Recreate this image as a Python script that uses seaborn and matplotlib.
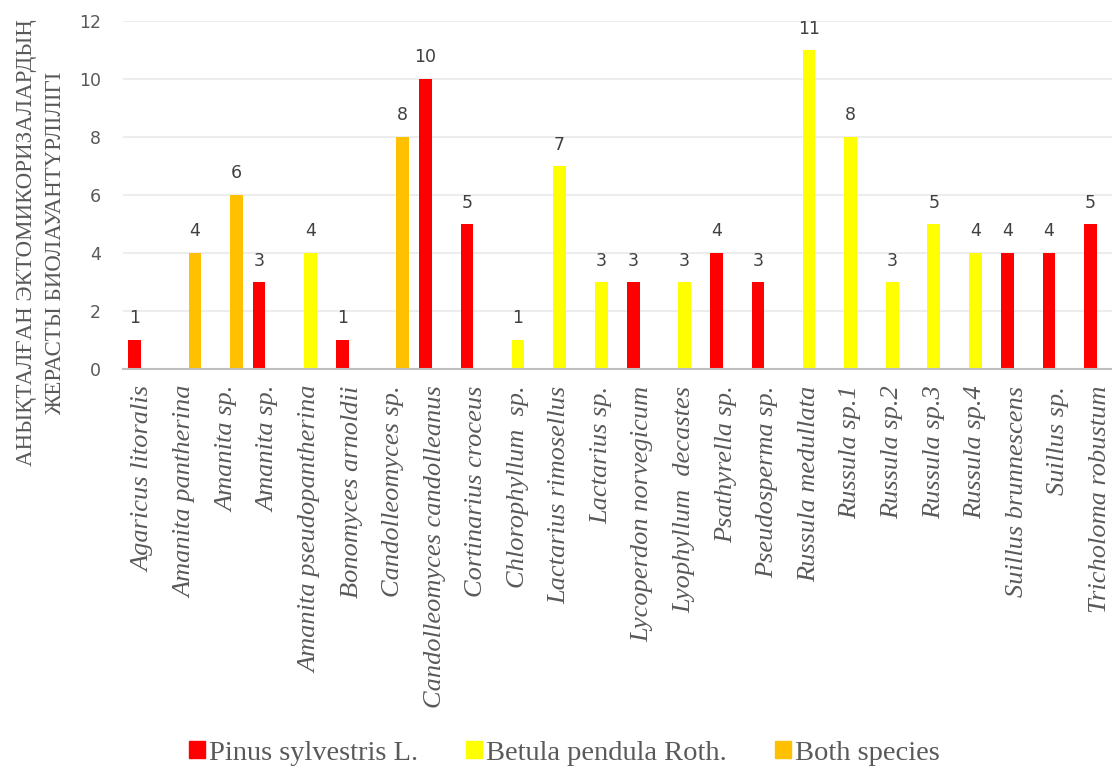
import matplotlib
matplotlib.use("Agg")
import matplotlib.pyplot as plt
import pandas as pd
import seaborn as sns

# Fungal taxa (x axis) and counts of ectomycorrhizal types per host tree
species = [
    "Agaricus litoralis", "Amanita pantherina", "Amanita sp.", "Amanita sp.",
    "Amanita pseudopantherina", "Bonomyces arnoldii", "Candolleomyces sp.",
    "Candolleomyces candolleanus", "Cortinarius croceus", "Chlorophyllum  sp.",
    "Lactarius rimosellus", "Lactarius sp.", "Lycoperdon norvegicum",
    "Lyophyllum  decastes", "Psathyrella sp.", "Pseudosperma sp.",
    "Russula medullata", "Russula sp.1", "Russula sp.2", "Russula sp.3",
    "Russula sp.4", "Suillus brunnescens", "Suillus sp.", "Tricholoma robustum",
]
pinus = [1, 0, 0, 3, 0, 1, 0, 10, 5, 0, 0, 0, 3, 0, 4, 3, 0, 0, 0, 0, 0, 4, 4, 5]
betula = [0, 0, 0, 0, 4, 0, 0, 0, 0, 1, 7, 3, 0, 3, 0, 0, 11, 8, 3, 5, 4, 0, 0, 0]
both = [0, 4, 6, 0, 0, 0, 8, 0, 0, 0, 0, 0, 0, 0, 0, 0, 0, 0, 0, 0, 0, 0, 0, 0]

groups = ["Pinus sylvestris L.", "Betula pendula Roth.", "Both species"]
palette = ["#FF0000", "#FFFF00", "#FFC000"]

y_label = "АНЫҚТАЛҒАН ЭКТОМИКОРИЗАЛАРДЫҢ\nЖЕРАСТЫ БИОЛАУАНТҮРЛІЛІГІ"

# long-form table; taxa are indexed so duplicate names stay separate
rows = []
for grp, vals in zip(groups, [pinus, betula, both]):
    for i, v in enumerate(vals):
        if v > 0:
            rows.append({"idx": i, "group": grp, "value": v})
df = pd.DataFrame(rows)

sns.set_theme(style="white")
plt.rcParams["font.family"] = ["DejaVu Sans"]

W, H = 1112, 769
fig = plt.figure(figsize=(W / 100, H / 100), dpi=100)
ax = fig.add_axes([123.1 / W, 1 - 369 / H, 997.7 / W, 348 / H])

sns.barplot(
    data=df, x="idx", y="value", hue="group",
    order=list(range(len(species))), hue_order=groups, palette=palette,
    width=0.686, errorbar=None, dodge=True, ax=ax, saturation=1,
)

# widen the bars slightly around their dodge positions
bw = 0.308
for p in ax.patches:
    cx = p.get_x() + p.get_width() / 2
    p.set_width(bw)
    p.set_x(cx - bw / 2)
    p.set_linewidth(0)

for cont in ax.containers:
    ax.bar_label(cont, fmt="%d", padding=9, fontsize=12.5, color="#404040")

ax.set_xlim(-0.5, len(species) - 0.5)
ax.set_ylim(0, 12)
ax.set_yticks(range(0, 13, 2))
ax.tick_params(axis="y", length=0, pad=16, labelsize=12.5, labelcolor="#595959")
ax.tick_params(axis="x", length=0, pad=12)
ax.set_xticks(range(len(species)))
ax.set_xticklabels(species, rotation=90, fontstyle="italic",
                   family="Liberation Serif", fontsize=19, color="#595959")
ax.set_xlabel("")
ax.set_ylabel("")

ax.yaxis.grid(True, color="#EDEDED", linewidth=1.5)
ax.set_axisbelow(True)
for s in ["left", "top", "right"]:
    ax.spines[s].set_visible(False)
ax.spines["bottom"].set_color("#BFBFBF")
ax.spines["bottom"].set_linewidth(1.5)

fig.text(41 / W, 1 - 243 / H, y_label, rotation=90, ha="center", va="center",
         multialignment="center", family="Liberation Serif", fontsize=16.5,
         color="#595959", linespacing=1.5)

ax.get_legend().remove()
handles = [plt.Rectangle((0, 0), 1, 1, color=c) for c in palette]
fig.legend(handles, groups, loc="center", bbox_to_anchor=(564.5 / W, 1 - 753 / H),
           ncol=3, frameon=False, prop={"family": "Liberation Serif", "size": 20.5},
           labelcolor="#595959", handlelength=0.55, handleheight=0.55,
           handletextpad=0.15, columnspacing=1.7)

fig.savefig("out.png", dpi=100)
